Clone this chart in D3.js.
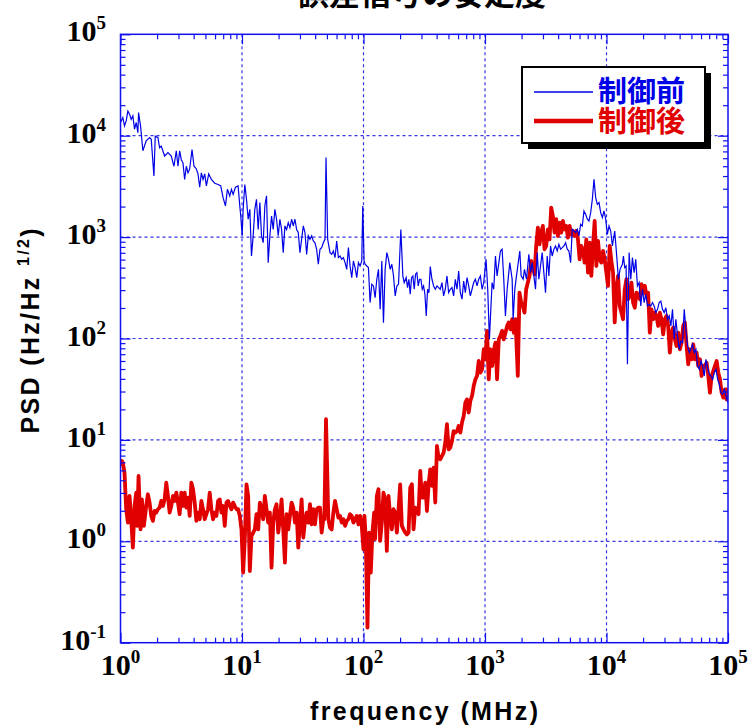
<!DOCTYPE html>
<html>
<head>
<meta charset="utf-8">
<script src="https://cdn.jsdelivr.net/npm/d3@7"></script>
<style>
  body { margin: 0; background: #fff; }
  svg { display: block; }
</style>
</head>
<body>
<svg id="chart" width="751" height="727"></svg>
<script>
// ---- data (frequency in MHz, PSD in Hz/Hz^1/2) ----
const title = "誤差信号の安定度";
const xLabel = "frequency (MHz)";
const legendLabels = ["制御前", "制御後"];
const xDecades = [1, 10, 100, 1e3, 1e4, 1e5];
const yDecades = [0.1, 1, 10, 100, 1e3, 1e4, 1e5];
const xExponents = ["0", "1", "2", "3", "4", "5"];
const yExponents = ["-1", "0", "1", "2", "3", "4", "5"];

// before control (blue)
const beforeCtrl = [
  [1.00,1.35e4],[1.045,1.51e4],[1.079,1.25e4],[1.114,1.40e4],[1.150,1.75e4],[1.187,1.63e4],[1.225,1.45e4],
  [1.264,1.57e4],[1.305,1.16e4],[1.347,1.35e4],[1.390,1.07e4],[1.408,1.69e4],[1.462,1.25e4],[1.528,7.1e3],
  [1.628,8.9e3],[1.735,9.6e3],[1.791,9.2e3],[1.884,4.0e3],[1.932,9.9e3],[2.032,9.6e3],[2.098,7.6e3],
  [2.165,7.9e3],[2.307,6.3e3],[2.458,6.8e3],[2.618,6.3e3],[2.754,5.0e3],[2.879,7.1e3],[2.972,5.0e3],
  [3.068,7.1e3],[3.166,5.8e3],[3.268,5.4e3],[3.373,3.7e3],[3.482,5.0e3],[3.594,4.3e3],[3.710,4.7e3],
  [3.878,7.3e3],[4.028,5.0e3],[4.211,4.7e3],[4.345,4.2e3],[4.486,3.1e3],[4.630,4.3e3],[4.779,3.7e3],
  [4.933,4.2e3],[5.091,3.2e3],[5.322,4.2e3],[5.598,3.7e3],[5.966,3.4e3],[6.355,3.3e3],[6.683,3.2e3],
  [6.987,2.45e3],[7.305,2.03e3],[7.586,2.96e3],[7.931,2.55e3],[8.187,2.96e3],[8.452,2.64e3],[8.831,3.1e3],
  [9.290,3.2e3],[9.590,2.03e3],[9.772,1.61e3],[10.03,1.03e3],[10.22,1.88e3],[10.55,3.3e3],[10.89,2.36e3],
  [11.24,1.50e3],[11.60,1.88e3],[11.97,651],[12.36,1.03e3],[12.75,1.88e3],[13.16,2.36e3],[13.59,1.19e3],
  [14.03,2.19e3],[14.48,1.03e3],[14.94,880],[15.42,2.03e3],[15.92,2.55e3],[16.43,560],[16.96,1.03e3],
  [17.51,1.61e3],[18.07,1.19e3],[18.65,1.88e3],[19.25,1.50e3],[19.87,1.03e3],[20.51,1.50e3],[21.17,1.19e3],
  [21.85,703],[22.55,1.29e3],[23.28,1.19e3],[24.03,1.39e3],[24.80,1.24e3],[25.60,1.50e3],[26.42,1.29e3],
  [27.27,1.50e3],[28.15,1.19e3],[29.05,1.11e3],[29.99,703],[30.95,950],[31.95,1.29e3],[32.98,1.11e3],
  [34.04,676],[35.13,1.03e3],[36.26,950],[37.42,1.03e3],[38.63,915],[39.87,880],[41.15,759],[42.47,540],
  [43.84,759],[45.25,787],[46.70,880],[48.21,950],[49.13,6.1e3],[50.72,950],[53.02,703],
  [54.72,676],[56.48,730],[58.30,628],[60.17,915],[62.11,628],[64.11,651],[66.17,604],[68.30,628],
  [70.50,560],[72.77,481],[75.11,787],[77.53,519],[80.02,398],[82.60,582],[85.26,500],[88.00,398],
  [90.83,560],[93.74,519],[96.76,582],[98.6,2.03e3],[101.1,582],[103.1,540],[106.4,519],[109.8,500],
  [113.3,226],[117.0,343],[120.8,330],[124.6,253],[128.7,384],[132.8,481],[137.1,194],[141.5,582],
  [146.0,143],[150.7,481],[155.6,703],[160.6,604],[165.8,481],[171.1,540],[176.6,414],[182.3,263],
  [188.2,330],[194.2,343],[203.0,1.19e3],[210.8,414],[216.2,356],[224.6,398],[230.4,318],[236.3,384],
  [242.4,273],[248.6,398],[255.0,414],[261.5,306],[268.2,430],[275.1,446],[282.1,330],[289.3,384],
  [296.8,384],[304.4,306],[312.2,330],[320.2,273],[328.5,167],[336.9,306],[345.5,283],[354.4,512],
  [365.8,384],[377.6,330],[389.7,306],[402.2,330],[415.1,318],[428.5,306],[442.3,356],[456.5,263],
  [471.2,306],[486.3,414],[502.0,283],[518.1,306],[534.8,318],[552.0,263],[569.8,384],[588.1,306],
  [607.0,463],[626.6,283],[646.7,244],[667.5,369],[689.0,283],[711.1,398],[734.0,330],[757.6,263],
  [782.0,306],[807.1,356],[833.1,384],[859.9,330],[887.6,384],[916.1,414],[945.6,306],[976.0,356],
  [1020,604],[1053,306],[1087,98],[1144,356],[1180,306],[1219,651],[1257,414],[1340,730],[1383,759],
  [1427,384],[1473,167],[1521,306],[1600,560],[1673,384],[1704,155],[1759,306],[1816,414],[1934,730],
  [1984,414],[2061,384],[2113,481],[2195,384],[2295,676],[2368,446],[2445,560],[2524,414],[2604,306],
  [2689,703],[2775,384],[2864,519],[2956,703],[3051,446],[3149,283],[3251,651],[3355,414],[3463,818],
  [3574,651],[3689,759],[3808,818],[3931,730],[4057,849],[4188,759],[4322,787],[4462,818],[4605,881],
  [4754,759],[4907,730],[5065,560],[5227,1194],[5396,1148],[5569,1107],[5749,1194],[5933,1026],
  [6125,1337],[6321,1288],[6525,1810],[6735,1679],[6953,1500],[7176,1442],[7408,1742],[7647,2360],
  [7892,3715],[8147,2450],[8407,2105],[8678,2190],[8957,1742],[9246,1556],[9541,1810],[9849,1500],
  [10165,1066],[10493,1288],[10829,1148],[11179,818],[11686,1148],[12137,651],[12530,384],[12930,481],
  [13520,540],[13780,651],[14134,500],[14496,519],[14870,55.7],[15350,703],[15840,384],[16350,628],
  [16880,446],[17410,604],[17970,330],[18550,356],[19150,209],[19770,306],[20410,226],[21060,273],
  [21740,209],[22440,217],[23160,209],[23900,226],[24680,209],[25470,180],[26290,194],[27130,226],
  [28010,234],[28900,194],[29830,180],[30790,201],[31780,155],[32800,167],[33860,133],[34940,194],
  [36070,98.2],[37230,155],[38420,106],[39670,78.3],[40950,94.6],[42260,91.0],[43630,194],[45030,123],
  [46480,84.4],[47980,72.6],[49520,78.3],[51110,87.7],[52760,72.6],[54450,78.3],[56210,53.6],[58010,49.7],
  [59870,60.0],[61800,53.6],[63780,42.7],[65830,62.4],[67950,51.6],[70140,44.4],[72380,42.7],[74710,39.6],
  [77130,46.1],[79610,49.7],[82160,39.6],[84800,35.3],[87530,29.2],[90370,28.2],[93260,31.5],[96270,27.1],
  [99360,23.3]
];

// after control (red)
const afterCtrl = [
  [1.00,5.53],[1.026,6.19],[1.045,5.97],[1.079,4.75],[1.114,2.07],[1.150,1.53],[1.187,2.80],[1.225,1.65],
  [1.264,0.867],[1.305,2.23],[1.347,3.02],[1.372,1.42],[1.408,4.41],[1.462,1.31],[1.500,2.59],[1.558,1.42],
  [1.628,2.23],[1.681,2.91],[1.735,2.41],[1.791,1.78],[1.848,1.59],[1.908,1.99],[1.969,1.92],[2.032,2.07],
  [2.098,2.15],[2.165,2.50],[2.235,2.23],[2.307,2.59],[2.381,3.79],[2.458,2.80],[2.536,1.92],[2.618,2.23],
  [2.703,2.80],[2.790,2.50],[2.879,3.02],[2.972,2.41],[3.068,1.85],[3.166,3.02],[3.268,2.23],[3.373,3.02],
  [3.482,2.15],[3.594,2.70],[3.710,1.78],[3.830,3.79],[3.953,3.26],[4.080,2.41],[4.211,1.59],[4.345,1.92],
  [4.486,1.65],[4.630,2.50],[4.779,2.07],[4.933,1.65],[5.091,1.85],[5.255,2.07],[5.424,3.02],[5.598,2.07],
  [5.778,1.65],[5.966,1.92],[6.156,1.78],[6.355,2.50],[6.559,2.59],[6.770,1.92],[6.987,2.23],[7.213,1.42],
  [7.445,2.41],[7.684,2.50],[7.931,2.23],[8.187,2.07],[8.452,2.41],[8.724,2.23],[9.004,2.07],[9.290,2.07],
  [9.590,1.78],[9.899,1.31],[10.22,0.491],[10.55,1.05],[10.89,3.65],[11.24,2.80],[11.60,0.509],[11.97,1.13],
  [12.36,1.22],[12.75,1.31],[13.16,1.85],[13.59,1.31],[14.03,2.41],[14.48,2.07],[14.94,1.65],[15.42,2.80],
  [15.92,2.07],[16.43,1.53],[16.96,1.92],[17.51,0.550],[18.07,1.53],[18.65,2.07],[19.25,2.32],[19.87,1.22],
  [20.51,1.65],[21.17,2.59],[21.85,1.31],[22.55,0.617],[23.28,1.85],[24.03,1.31],[24.80,1.78],[25.60,2.41],
  [26.42,2.15],[27.27,1.53],[28.15,1.92],[29.05,0.867],[29.99,1.53],[30.95,2.59],[31.95,1.09],[32.98,1.59],
  [34.04,1.92],[35.13,1.53],[36.26,2.32],[37.42,1.47],[38.63,2.07],[39.87,1.47],[41.15,2.07],[42.47,2.15],
  [43.84,2.15],[45.25,1.22],[46.70,1.65],[47.62,1.65],[49.13,16],[51.37,1.65],[53.02,1.36],
  [54.72,1.31],[56.48,1.92],[58.30,2.50],[60.17,2.07],[62.11,1.71],[64.11,1.78],[66.17,1.53],[68.30,1.65],
  [70.50,1.42],[72.77,1.59],[75.11,1.65],[77.53,1.85],[80.02,1.78],[82.60,1.53],[85.26,1.65],[88.00,1.78],
  [90.83,1.47],[93.74,1.78],[96.76,1.42],[99.87,0.834],[101.8,1.78],[104.4,1.05],[107.8,0.141],[111.2,1.22],
  [114.8,0.491],[118.5,1.22],[122.3,1.92],[124.6,1.05],[128.7,2.80],[132.8,3.26],[137.1,1.01],[141.5,1.53],
  [146.0,3.02],[150.7,2.59],[155.6,0.803],[160.6,2.80],[165.8,1.78],[171.1,1.31],[176.6,2.07],[182.3,1.92],
  [188.2,1.22],[194.2,2.07],[200.4,3.65],[206.9,1.42],[213.5,1.31],[220.4,1.22],[227.5,1.17],[234.9,1.22],
  [242.4,3.38],[250.2,3.65],[258.2,1.31],[266.5,2.15],[275.1,2.07],[283.9,1.85],[293.1,4.94],[302.5,2.70],
  [312.2,2.70],[322.3,3.79],[332.7,1.99],[343.4,3.65],[354.4,5.13],[365.8,3.52],[377.6,5.32],[389.7,2.41],
  [402.2,8.71],[415.1,6.68],[428.5,6.44],[442.3,6.95],[456.5,7.48],[471.2,9.39],[486.3,14.3],[502.0,8.07],
  [518.1,8.39],[534.8,9.75],[552.0,12.2],[569.8,11.8],[588.1,12.2],[607.0,13.7],[626.6,11.8],[646.7,14.8],
  [667.5,17.2],[689.0,23.3],[711.1,25.1],[734.0,18.6],[757.6,24.2],
  [782.0,27.1],[807.1,34.0],[833.1,39.6],[859.9,42.7],[887.6,60.0],[916.1,46.1],[945.6,49.7],[976.0,78.3],
  [1008,62.4],[1040,119],[1073,39.6],[1108,78.3],[1144,53.6],[1180,75.4],[1219,91.0],[1257,39.6],
  [1298,98.2],[1340,106],[1383,119],[1427,98.2],[1473,114],[1521,133],[1570,144],[1620,123],[1673,155],
  [1726,114],[1782,155],[1862,42.7],[1922,283],[1984,226],[2048,209],[2113,180],[2182,306],[2251,356],
  [2324,414],[2399,582],[2476,519],[2555,430],[2638,818],[2724,1239],[2811,849],[2900,1107],[2994,1288],
  [3090,759],[3189,818],[3292,1194],[3398,951],[3507,1953],[3620,1614],[3736,1107],[3857,1500],[3981,1026],
  [4109,1390],[4241,1107],[4377,1442],[4519,1194],[4664,1288],[4815,988],[4969,1288],[5130,1066],
  [5294,1148],[5464,1026],[5640,1148],[5822,951],[6009,604],[6202,818],[6402,730],[6608,560],[6821,951],
  [7041,446],[7268,881],[7502,414],[7744,818],[7993,1442],[8251,519],[8514,916],[8789,604],[9071,560],
  [9363,730],[9663,604],[9975,446],[10294,330],[10627,818],[10968,582],[11322,446],[11686,144],[12060,306],
  [12450,414],[12850,209],[13267,180],[13690,155],[14134,306],[14580,384],[15060,244],[15540,263],
  [16040,356],[16560,226],[17090,201],[17640,283],[18200,263],[18790,244],[19400,343],[20020,283],
  [20670,330],[21330,263],[22020,283],[22720,114],[23460,194],[24210,155],[24990,180],[25790,167],
  [26620,133],[27480,180],[28360,155],[29270,110],[30210,155],[31180,167],[32180,133],[33220,72.6],
  [34290,114],[35390,128],[36530,98.2],[37700,84.4],[38910,114],[40170,78.3],[41470,91.0],[42800,133],
  [44180,144],[45600,84.4],[47070,55.7],[48590,78.3],[50150,62.4],[51760,87.7],[53430,62.4],[55140,72.6],
  [56920,53.6],[58750,62.4],[60640,42.7],[62580,53.6],[64590,53.6],[66680,57.8],[68820,42.7],[71030,29.2],
  [73310,42.7],[75680,47.9],[78110,53.6],[80620,60.0],[83210,46.1],[85900,39.6],[88660,29.2],[91520,26.1],
  [94450,31.5],[97500,25.1],[100000,32.7]
];

// ---- layout ----
const plot = {left: 120.5, right: 728, top: 34.3, bottom: 642.7};
const blue = "#0000e6";
const red = "#e00000";
const axisBlue = "#1010f0";

const svg = d3.select("#chart");

const x = d3.scaleLog().domain([1, 1e5]).range([plot.left, plot.right]);
const y = d3.scaleLog().domain([0.1, 1e5]).range([plot.bottom, plot.top]);

function minorTicks(decades) {
  const out = [];
  for (let i = 0; i < decades.length - 1; i++) {
    for (let k = 2; k <= 9; k++) out.push(decades[i] * k);
  }
  return out;
}

// grid
const grid = svg.append("g").attr("class", "grid")
  .attr("stroke", "#3535e0").attr("stroke-width", 1.2).attr("stroke-dasharray", "3,3");

grid.selectAll("line.v")
  .data(xDecades.slice(1, -1))
  .join("line")
  .attr("x1", d => x(d)).attr("x2", d => x(d))
  .attr("y1", plot.top).attr("y2", plot.bottom);

grid.selectAll("line.h")
  .data(yDecades.slice(1, -1))
  .join("line")
  .attr("x1", plot.left).attr("x2", plot.right)
  .attr("y1", d => y(d)).attr("y2", d => y(d));

// data lines
svg.append("defs").append("clipPath").attr("id", "plotClip")
  .append("rect")
  .attr("x", plot.left).attr("y", plot.top)
  .attr("width", plot.right - plot.left).attr("height", plot.bottom - plot.top);

const line = d3.line()
  .x(d => x(d[0]))
  .y(d => y(d[1]));

const series = svg.append("g").attr("clip-path", "url(#plotClip)");

series.append("path")
  .attr("d", line(afterCtrl))
  .attr("fill", "none")
  .attr("stroke", red)
  .attr("stroke-width", 3.8)
  .attr("stroke-linejoin", "round");

series.append("path")
  .attr("d", line(beforeCtrl))
  .attr("fill", "none")
  .attr("stroke", blue)
  .attr("stroke-width", 1.2);

// axes: inward ticks on all four sides
function drawAxis(axisFn, scale, transform, values, size) {
  const g = svg.append("g")
    .attr("transform", transform)
    .call(axisFn(scale).tickValues(values).tickSizeInner(size).tickSizeOuter(0).tickFormat(""));
  g.select(".domain").remove();
  g.selectAll("line").attr("stroke", axisBlue).attr("stroke-width", 1.2);
}

const xMinor = minorTicks(xDecades);
const yMinor = minorTicks(yDecades);

drawAxis(d3.axisBottom, x, `translate(0,${plot.bottom})`, xDecades, -10);
drawAxis(d3.axisBottom, x, `translate(0,${plot.bottom})`, xMinor, -5);
drawAxis(d3.axisTop, x, `translate(0,${plot.top})`, xDecades, -10);
drawAxis(d3.axisTop, x, `translate(0,${plot.top})`, xMinor, -5);
drawAxis(d3.axisLeft, y, `translate(${plot.left},0)`, yDecades, -10);
drawAxis(d3.axisLeft, y, `translate(${plot.left},0)`, yMinor, -5);
drawAxis(d3.axisRight, y, `translate(${plot.right},0)`, yDecades, -10);
drawAxis(d3.axisRight, y, `translate(${plot.right},0)`, yMinor, -5);

svg.append("rect")
  .attr("x", plot.left).attr("y", plot.top)
  .attr("width", plot.right - plot.left).attr("height", plot.bottom - plot.top)
  .attr("fill", "none").attr("stroke", axisBlue).attr("stroke-width", 1.5);

// tick labels (10 with superscript exponent)
const tickFont = "'Liberation Serif', 'Times New Roman', serif";

const yLabels = svg.append("g")
  .attr("font-family", tickFont).attr("font-weight", "bold")
  .attr("font-size", 30).attr("fill", "#000").attr("text-anchor", "end");

yLabels.selectAll("text")
  .data(yDecades)
  .join("text")
  .attr("x", 106)
  .attr("y", d => y(d) + 7)
  .each(function(d, i) {
    const t = d3.select(this);
    t.append("tspan").text("10");
    t.append("tspan").attr("dy", -12).attr("font-size", 19).text(yExponents[i]);
  });

const xLabels = svg.append("g")
  .attr("font-family", tickFont).attr("font-weight", "bold")
  .attr("font-size", 30).attr("fill", "#000").attr("text-anchor", "middle");

xLabels.selectAll("text")
  .data(xDecades)
  .join("text")
  .attr("x", d => x(d))
  .attr("y", 675)
  .each(function(d, i) {
    const t = d3.select(this);
    t.append("tspan").text("10");
    t.append("tspan").attr("dy", -12).attr("font-size", 19).text(xExponents[i]);
  });

// axis titles
const labelFont = "'Liberation Sans', Arial, sans-serif";

svg.append("text")
  .attr("x", 424).attr("y", 720)
  .attr("text-anchor", "middle")
  .attr("font-family", labelFont).attr("font-weight", "bold").attr("font-size", 25)
  .attr("textLength", 228).attr("lengthAdjust", "spacing")
  .text(xLabel);

const yTitle = svg.append("text")
  .attr("transform", "translate(39,331) rotate(-90)")
  .attr("text-anchor", "middle")
  .attr("font-family", labelFont).attr("font-weight", "bold").attr("font-size", 25)
  .attr("textLength", 205).attr("lengthAdjust", "spacing");
yTitle.append("tspan").text("PSD (Hz/Hz ");
yTitle.append("tspan").attr("dy", -10).attr("font-size", 16).text("1/2");
yTitle.append("tspan").attr("dy", 10).text(")");

// chart title (cut by the top edge)
svg.append("text")
  .attr("x", 422).attr("y", 5)
  .attr("text-anchor", "middle")
  .attr("font-family", "'Noto Sans CJK JP', sans-serif").attr("font-weight", "bold").attr("font-size", 31)
  .text(title);

// legend
const legend = svg.append("g").attr("transform", "translate(522,67)");
legend.append("rect").attr("x", 6).attr("y", 6).attr("width", 183).attr("height", 76).attr("fill", "#000");
legend.append("rect").attr("x", 0).attr("y", 0).attr("width", 183).attr("height", 76)
  .attr("fill", "#fff").attr("stroke", "#000").attr("stroke-width", 2);

const legendItems = [
  {label: legendLabels[0], color: blue, width: 1.4, y: 25, base: 35},
  {label: legendLabels[1], color: red, width: 4.5, y: 54, base: 65}
];

legendItems.forEach(item => {
  legend.append("line")
    .attr("x1", 12).attr("x2", 71)
    .attr("y1", item.y).attr("y2", item.y)
    .attr("stroke", item.color).attr("stroke-width", item.width);
  legend.append("text")
    .attr("x", 76).attr("y", item.base)
    .attr("font-family", "'Noto Sans CJK JP', sans-serif").attr("font-weight", "bold")
    .attr("font-size", 29).attr("fill", item.color)
    .text(item.label);
});
</script>
</body>
</html>
